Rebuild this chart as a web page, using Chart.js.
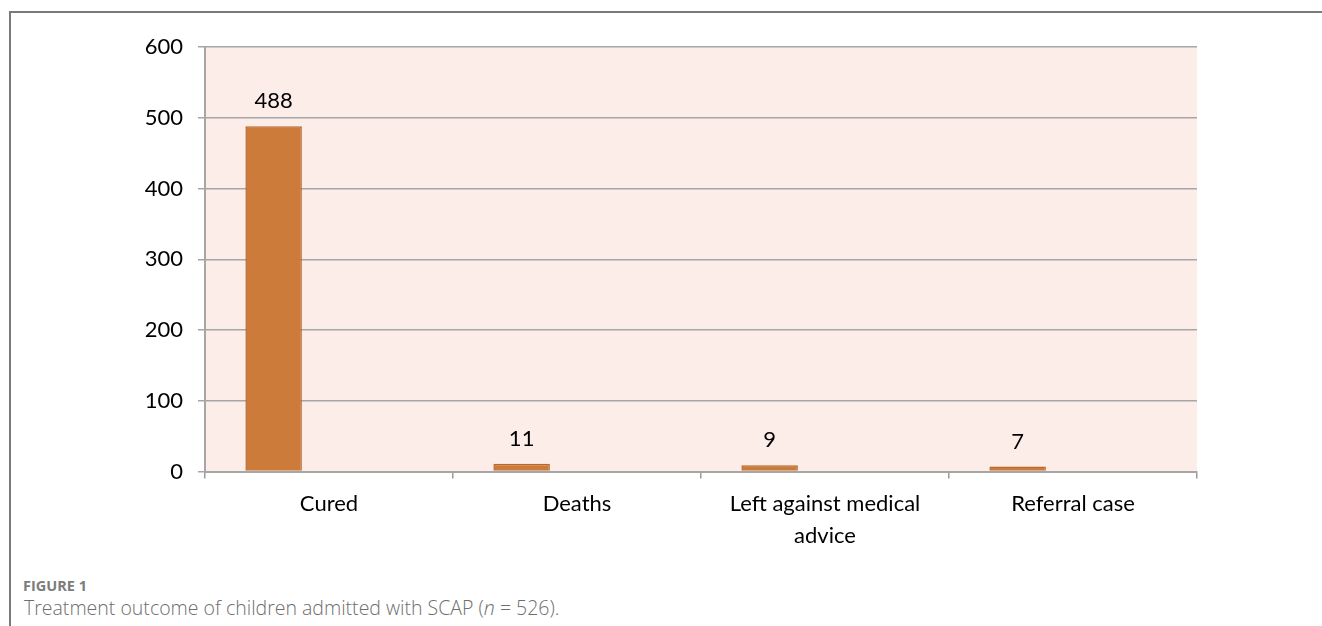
<!DOCTYPE html>
<html>
<head>
<meta charset="utf-8">
<script src="https://cdn.jsdelivr.net/npm/chart.js@4/dist/chart.umd.min.js"></script>
<style>
  html, body { margin: 0; padding: 0; background: #ffffff; }
  body { width: 1322px; height: 626px; position: relative; overflow: hidden; }
  #frame {
    position: absolute; left: 9px; top: 11px; right: 0; bottom: 0;
    border-top: 2px solid #7a7a7a; border-left: 2px solid #7a7a7a;
  }
  #wrap { position: absolute; left: 0; top: 0; width: 1322px; height: 560px; }
  #figLabel {
    position: absolute; left: 23px; top: 576px;
    font-family: "Open Sans", sans-serif; font-weight: 700; font-size: 14.5px;
    line-height: 20px; color: #7c7c7c;
  }
  #caption {
    position: absolute; left: 24px; top: 595px;
    font-family: "Open Sans", sans-serif; font-weight: 300; font-size: 19.5px;
    line-height: 26.5px; color: #6e6e6e;
  }
</style>
</head>
<body>
<div id="frame"></div>
<div id="wrap"><canvas id="chart" width="1322" height="560"></canvas></div>
<div id="figLabel">FIGURE 1</div>
<div id="caption">Treatment outcome of children admitted with SCAP (<i>n</i> = 526).</div>
<script>
// Outcome categories and counts
const categories = ['Cured', 'Deaths', ['Left against medical', 'advice'], 'Referral case'];
const outcomeCounts = [488, 11, 9, 7];
// Second (empty) series slot that keeps the bars to the left of each category
const secondSeries = [null, null, null, null];
const yMin = 0;
const yMax = 600;
const yStep = 100;

const labelFont = 'Lato, "Open Sans", sans-serif';

const plotBackground = {
  id: 'plotBackground',
  beforeDraw(chart) {
    const { ctx, chartArea: a } = chart;
    ctx.save();
    ctx.fillStyle = '#fcede8';
    ctx.fillRect(a.left, a.top, a.right - a.left, a.bottom - a.top);
    ctx.restore();
  }
};

const valueLabels = {
  id: 'valueLabels',
  afterDatasetsDraw(chart) {
    const { ctx } = chart;
    const meta = chart.getDatasetMeta(0);
    ctx.save();
    ctx.font = '22px ' + labelFont;
    ctx.fillStyle = '#000000';
    ctx.textAlign = 'center';
    ctx.textBaseline = 'alphabetic';
    meta.data.forEach((bar, i) => {
      const v = outcomeCounts[i];
      if (v == null) return;
      ctx.fillText(String(v), bar.x, bar.y - 18);
    });
    ctx.restore();
  }
};

new Chart(document.getElementById('chart'), {
  type: 'bar',
  data: {
    labels: categories,
    datasets: [
      {
        label: 'Outcome',
        data: outcomeCounts,
        backgroundColor: '#cc7b3a',
        borderColor: '#b9692c',
        borderWidth: 1.5,
        categoryPercentage: 0.893,
        barPercentage: 0.51
      },
      {
        label: '',
        data: secondSeries,
        backgroundColor: '#cc7b3a',
        categoryPercentage: 0.893,
        barPercentage: 0.51
      }
    ]
  },
  options: {
    responsive: false,
    animation: false,
    layout: { padding: { left: 0, right: 125, top: 47, bottom: 0 } },
    plugins: {
      legend: { display: false },
      tooltip: { enabled: false },
      title: { display: false }
    },
    scales: {
      x: {
        afterFit(scale) { scale.height = 88.5; },
        grid: {
          offset: true,
          drawOnChartArea: false,
          drawTicks: true,
          tickLength: 7,
          color: '#9a9a9a',
          lineWidth: 1.5
        },
        border: { color: '#a6a6a6', width: 2 },
        ticks: {
          color: '#000000',
          font: { family: labelFont, size: 22, lineHeight: 1.43 },
          padding: 10,
          maxRotation: 0,
          autoSkip: false
        }
      },
      y: {
        min: yMin,
        max: yMax,
        afterFit(scale) { scale.width = 205; },
        grid: {
          color: '#a6a6a6',
          lineWidth: 1.5,
          drawTicks: true,
          tickLength: 7
        },
        border: { color: '#a6a6a6', width: 2 },
        ticks: {
          stepSize: yStep,
          color: '#000000',
          font: { family: labelFont, size: 22 },
          padding: 15
        }
      }
    }
  },
  plugins: [plotBackground, valueLabels]
});
</script>
</body>
</html>
